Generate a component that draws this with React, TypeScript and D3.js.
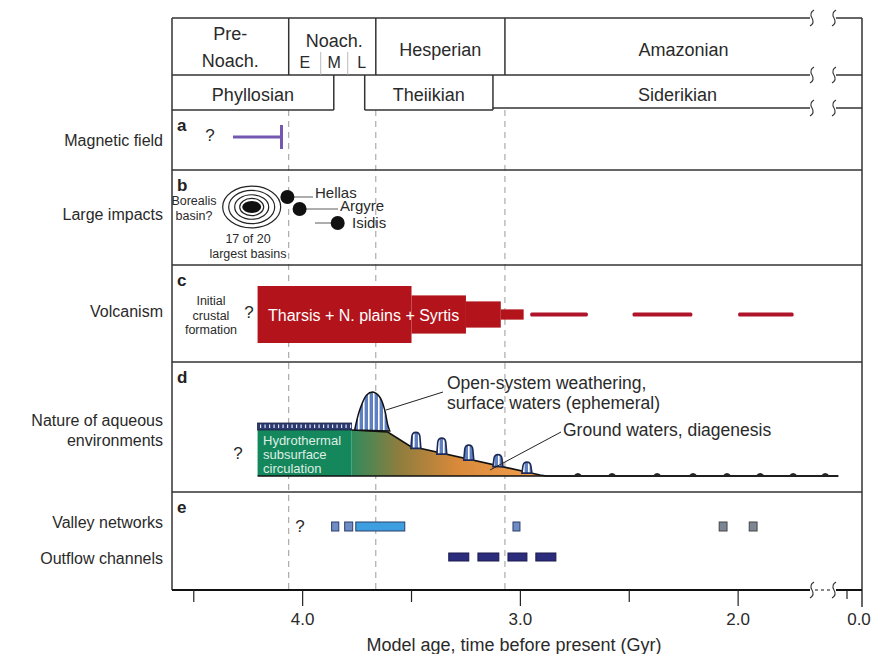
import React from 'react';
import * as d3 from 'd3';

// ---------- DATA ----------
const axisTicks = [4.5, 4.0, 3.5, 3.0, 2.5, 2.0, 1.5, 0.0];
const axisTickLabels = ['', '4.0', '', '3.0', '', '2.0', '', '0.0'];

const eras = [
  { name: ['Pre-', 'Noach.'], start: 4.6, end: 4.064 },
  { name: ['Noach.'], start: 4.064, end: 3.664 },
  { name: ['Hesperian'], start: 3.664, end: 3.071 },
  { name: ['Amazonian'], start: 3.071, end: 0.0 },
];
const noachianEpochs = [
  { name: 'E', start: 4.064, end: 3.917 },
  { name: 'M', start: 3.917, end: 3.793 },
  { name: 'L', start: 3.793, end: 3.664 },
];
const mineralEras = [
  { name: 'Phyllosian', start: 4.6, end: 3.857 },
  { name: 'Theiikian', start: 3.715, end: 3.126 },
  { name: 'Siderikian', start: 3.126, end: 0.0 },
];
const boundaries = [4.064, 3.664, 3.071];

const rowLabels = [
  ['Magnetic field'],
  ['Large impacts'],
  ['Volcanism'],
  ['Nature of aqueous', 'environments'],
  ['Valley networks', 'Outflow channels'],
];
const panelLetters = ['a', 'b', 'c', 'd', 'e'];

const magneticField = { start: 4.32, end: 4.097 };

const borealisAge = 4.234;
const impacts = [
  { name: 'Hellas', age: 4.07 },
  { name: 'Argyre', age: 4.014 },
  { name: 'Isidis', age: 3.839 },
];

const volcanismSteps = [
  { start: 4.207, end: 3.5, intensity: 1.0 },
  { start: 3.5, end: 3.25, intensity: 0.67 },
  { start: 3.25, end: 3.09, intensity: 0.46 },
  { start: 3.09, end: 2.985, intensity: 0.18 },
];
const volcanismPulses = [
  { start: 2.955, end: 2.69 },
  { start: 2.485, end: 2.21 },
  { start: 2.0, end: 1.745 },
];
const pulseIntensity = 0.07;

const hydrothermal = { start: 4.207, end: 3.775, level: 46 };
const groundProfile: [number, number][] = [
  [3.775, 46], [3.609, 44], [3.508, 30], [2.91, 1], [2.88, 0], [1.54, 0],
];
const surfaceHump: [number, number][] = [
  [3.761, 46], [3.738, 66], [3.706, 81], [3.678, 84], [3.646, 79], [3.623, 66], [3.609, 51], [3.6, 45],
];
const groundHumpAges = [3.48, 3.361, 3.237, 3.103, 2.97];
const groundHumpHeights = [15, 15, 14, 11, 10];
const lateBumpAges = [2.736, 2.579, 2.372, 2.207, 2.051, 1.899, 1.747, 1.6];

const valleyNetworks = [
  { start: 3.867, end: 3.834, kind: 'early' },
  { start: 3.807, end: 3.77, kind: 'early' },
  { start: 3.756, end: 3.531, kind: 'main' },
  { start: 3.034, end: 3.002, kind: 'early' },
  { start: 2.087, end: 2.051, kind: 'late' },
  { start: 1.949, end: 1.913, kind: 'late' },
];
const outflowChannels = [
  { start: 3.329, end: 3.237 },
  { start: 3.195, end: 3.099 },
  { start: 3.057, end: 2.97 },
  { start: 2.929, end: 2.837 },
];

// ---------- LAYOUT ----------
const W = 875, H = 654;
const FL = 172, FR = 862;
const x = d3.scaleLinear().domain([4.6, 1.5, 0.0]).range([FL, 847, FR]);
const yTop = 18, yRow1 = 75, yRow2 = 110;
const panelBounds = [110, 170, 265, 362, 492, 590];
const yAxis = 590;
const yD = d3.scaleLinear().domain([0, 100]).range([476, 376]);
const volcH = d3.scaleLinear().domain([0, 1]).range([0, 57]);
const volcCenter = 314.5;

const FONT = "'Liberation Sans', Arial, Helvetica, sans-serif";
const INK = '#2a2a2a';
const LINE = '#333';

function BreakMark({ cx, cy }: { cx: number; cy: number }) {
  const p = `M${cx + 2},${cy - 8} Q${cx - 3},${cy - 5} ${cx},${cy} Q${cx + 3},${cy + 5} ${cx - 2},${cy + 8}`;
  return <path d={p} fill="none" stroke={LINE} strokeWidth={1.1} />;
}

function HLineWithBreak({ y, x1, x2 }: { y: number; x1: number; x2: number }) {
  return (
    <g>
      <line x1={x1} x2={810} y1={y} y2={y} stroke={LINE} strokeWidth={1.5} />
      <line x1={836} x2={x2} y1={y} y2={y} stroke={LINE} strokeWidth={1.5} />
      <BreakMark cx={812} cy={y} />
      <BreakMark cx={834} cy={y} />
    </g>
  );
}

export default function App() {
  const dLine = d3.line<[number, number]>().x(d => x(d[0])).y(d => yD(d[1]));
  const humpPath = d3.line<[number, number]>().x(d => x(d[0])).y(d => yD(d[1])).curve(d3.curveCatmullRom)(surfaceHump) || '';
  const orangePoly = [...groundProfile, [groundProfile[groundProfile.length - 1][0], 0] as [number, number], [groundProfile[0][0], 0] as [number, number]];

  const slopeLevel = (t: number) => {
    for (let i = 0; i < groundProfile.length - 1; i++) {
      const [t0, l0] = groundProfile[i];
      const [t1, l1] = groundProfile[i + 1];
      if (t <= t0 && t >= t1) return l0 + ((t0 - t) / (t0 - t1)) * (l1 - l0);
    }
    return 0;
  };

  const smallHump = (t: number, h: number) => {
    const cx = x(t);
    const w = 10;
    const yb = yD(slopeLevel(t)) + 1;
    const yt = yD(slopeLevel(t) + h);
    return `M${cx - w / 2},${yb} L${cx - w / 2 + 1},${yt + 4} Q${cx - w / 2 + 1.5},${yt} ${cx},${yt} Q${cx + w / 2 - 1.5},${yt} ${cx + w / 2 - 1},${yt + 4} L${cx + w / 2},${yb} Z`;
  };

  const impactY = [197, 209, 223];
  const impactLabelX = [315, 340, 352];
  const impactLabelY = [198, 211, 228];

  return (
    <div style={{ position: 'absolute', left: 0, top: 0 }}>
      <svg width={W} height={H} style={{ display: 'block', background: '#fff' }} fontFamily={FONT}>
        <defs>
          <pattern id="stripes" patternUnits="userSpaceOnUse" width={5} height={10}>
            <rect width={5} height={10} fill="#5e7fc0" />
            <rect x={3} width={1.6} height={10} fill="#ffffff" />
          </pattern>
          <linearGradient id="orangeGrad" gradientUnits="userSpaceOnUse" x1={x(3.775)} x2={x(2.9)} y1={0} y2={0}>
            <stop offset="0" stopColor="#2f8a5c" />
            <stop offset="0.25" stopColor="#8f7d3e" />
            <stop offset="0.55" stopColor="#d8893a" />
            <stop offset="1" stopColor="#f4a04e" />
          </linearGradient>
        </defs>

        {/* dashed era boundaries */}
        {boundaries.map((b, i) => (
          <line key={i} x1={x(b)} x2={x(b)} y1={yRow2} y2={yAxis} stroke="#9a9a9a" strokeWidth={1} strokeDasharray="6,5" />
        ))}

        {/* ---------- HEADER ---------- */}
        <HLineWithBreak y={yTop} x1={FL} x2={FR} />
        <HLineWithBreak y={yRow1} x1={FL} x2={FR} />
        <line x1={FL} x2={FL} y1={yTop} y2={yAxis} stroke={LINE} strokeWidth={1.5} />
        <line x1={FR} x2={FR} y1={yTop} y2={607} stroke={LINE} strokeWidth={1.5} />
        {eras.slice(1).map((e, i) => (
          <line key={i} x1={x(e.start)} x2={x(e.start)} y1={yTop} y2={yRow1} stroke={LINE} strokeWidth={1.5} />
        ))}
        {noachianEpochs.slice(1).map((e, i) => (
          <line key={i} x1={x(e.start)} x2={x(e.start)} y1={52} y2={yRow1} stroke="#aaa" strokeWidth={0.8} />
        ))}
        {eras.map((e, i) => {
          const cx = (x(e.start) + x(e.end)) / 2;
          if (e.name.length === 2)
            return (
              <g key={i}>
                <text x={cx} y={40} textAnchor="middle" fontSize={18} fill={INK}>{e.name[0]}</text>
                <text x={cx} y={67} textAnchor="middle" fontSize={18} fill={INK}>{e.name[1]}</text>
              </g>
            );
          if (e.name[0] === 'Noach.')
            return <text key={i} x={cx + 2} y={47} textAnchor="middle" fontSize={18} fill={INK}>{e.name[0]}</text>;
          return <text key={i} x={cx} y={56} textAnchor="middle" fontSize={18} fill={INK}>{e.name[0]}</text>;
        })}
        {noachianEpochs.map((e, i) => (
          <text key={i} x={(x(e.start) + x(e.end)) / 2} y={68} textAnchor="middle" fontSize={16} fill={INK}>{e.name}</text>
        ))}
        {/* row 2 mineral eras */}
        {mineralEras.map((m, i) => {
          const x1 = x(m.start), x2 = x(m.end);
          return (
            <g key={i}>
              {i === 2 ? (
                <HLineWithBreak y={yRow2 - 2} x1={x1} x2={x2} />
              ) : (
                <line x1={x1} x2={x2} y1={yRow2} y2={yRow2} stroke={LINE} strokeWidth={1.5} />
              )}
              {i < 2 && <line x1={x2} x2={x2} y1={yRow1} y2={yRow2} stroke={LINE} strokeWidth={1.5} />}
              {i === 1 && <line x1={x1} x2={x1} y1={yRow1} y2={yRow2} stroke={LINE} strokeWidth={1.5} />}
              <text x={(x1 + x2) / 2} y={101} textAnchor="middle" fontSize={18} fill={INK}>{m.name}</text>
            </g>
          );
        })}

        {/* ---------- PANEL FRAMES ---------- */}
        {panelBounds.slice(1, 5).map((y, i) => (
          <line key={i} x1={FL} x2={FR} y1={y} y2={y} stroke={LINE} strokeWidth={1.3} />
        ))}
        {panelLetters.map((l, i) => (
          <text key={l} x={177} y={panelBounds[i] + 21} fontSize={17} fontWeight="bold" fill="#222">{l}</text>
        ))}
        {/* row labels */}
        <text x={163} y={146} textAnchor="end" fontSize={16} fill={INK}>{rowLabels[0][0]}</text>
        <text x={163} y={220} textAnchor="end" fontSize={16} fill={INK}>{rowLabels[1][0]}</text>
        <text x={163} y={317} textAnchor="end" fontSize={16} fill={INK}>{rowLabels[2][0]}</text>
        <text x={163} y={426} textAnchor="end" fontSize={16} fill={INK}>{rowLabels[3][0]}</text>
        <text x={163} y={446} textAnchor="end" fontSize={16} fill={INK}>{rowLabels[3][1]}</text>
        <text x={163} y={528} textAnchor="end" fontSize={16} fill={INK}>{rowLabels[4][0]}</text>
        <text x={163} y={564} textAnchor="end" fontSize={16} fill={INK}>{rowLabels[4][1]}</text>

        {/* ---------- a: magnetic field ---------- */}
        <text x={210} y={141} textAnchor="middle" fontSize={17} fill={INK}>?</text>
        <line x1={x(magneticField.start)} x2={x(magneticField.end)} y1={137} y2={137} stroke="#7458b0" strokeWidth={3} />
        <line x1={x(magneticField.end)} x2={x(magneticField.end)} y1={125} y2={149} stroke="#7458b0" strokeWidth={3} />

        {/* ---------- b: impacts ---------- */}
        {[29, 23, 17, 12].map((rx, i) => (
          <ellipse key={i} cx={x(borealisAge)} cy={207} rx={rx} ry={rx * 0.72} fill="none" stroke="#222" strokeWidth={1.2} />
        ))}
        <ellipse cx={x(borealisAge)} cy={207} rx={9.5} ry={6} fill="#111" />
        <text x={194} y={204.5} textAnchor="middle" fontSize={12.5} fill={INK}>Borealis</text>
        <text x={194} y={219.5} textAnchor="middle" fontSize={12.5} fill={INK}>basin?</text>
        <text x={248} y={242.5} textAnchor="middle" fontSize={12.5} fill={INK}>17 of 20</text>
        <text x={248} y={257.5} textAnchor="middle" fontSize={12.5} fill={INK}>largest basins</text>
        {impacts.map((imp, i) => {
          const cx = x(imp.age), cy = impactY[i];
          return (
            <g key={imp.name}>
              {i === 0 && <line x1={cx} x2={313} y1={cy} y2={cy} stroke="#333" strokeWidth={0.8} />}
              {i === 1 && <line x1={cx} x2={338} y1={cy} y2={cy} stroke="#333" strokeWidth={0.8} />}
              {i === 2 && <line x1={315} x2={cx} y1={cy} y2={cy} stroke="#333" strokeWidth={0.8} />}
              <circle cx={cx} cy={cy} r={7} fill="#111" />
              <text x={impactLabelX[i]} y={impactLabelY[i]} fontSize={15} fill={INK}>{imp.name}</text>
            </g>
          );
        })}

        {/* ---------- c: volcanism ---------- */}
        <text x={211} y={304.5} textAnchor="middle" fontSize={12.5} fill={INK}>Initial</text>
        <text x={211} y={319.5} textAnchor="middle" fontSize={12.5} fill={INK}>crustal</text>
        <text x={211} y={333.5} textAnchor="middle" fontSize={12.5} fill={INK}>formation</text>
        <text x={249} y={318} textAnchor="middle" fontSize={17} fill={INK}>?</text>
        {volcanismSteps.map((s, i) => (
          <rect key={i} x={x(s.start)} width={x(s.end) - x(s.start)} y={volcCenter - volcH(s.intensity) / 2} height={volcH(s.intensity)} fill="#b3141c" />
        ))}
        {volcanismPulses.map((p, i) => (
          <rect key={i} x={x(p.start)} width={x(p.end) - x(p.start)} y={volcCenter - volcH(pulseIntensity) / 2} height={volcH(pulseIntensity)} rx={1.5} fill="#b0142a" />
        ))}
        <text x={268} y={321} fontSize={16} fill="#fff">Tharsis + N. plains + Syrtis</text>

        {/* ---------- d: aqueous environments ---------- */}
        <path d={(dLine(orangePoly as [number, number][]) || '') + 'Z'} fill="url(#orangeGrad)" />
        <rect x={x(hydrothermal.start)} y={yD(hydrothermal.level)} width={x(hydrothermal.end) - x(hydrothermal.start)} height={yD(0) - yD(hydrothermal.level)} fill="#15875c" />
        <rect x={x(hydrothermal.start)} y={yD(hydrothermal.level + 7)} width={x(hydrothermal.end) - x(hydrothermal.start)} height={yD(hydrothermal.level) - yD(hydrothermal.level + 7)} fill="#2c3a6e" stroke="#1c2240" strokeWidth={0.8} />
        {d3.range(x(hydrothermal.start) + 3, x(hydrothermal.end) - 1, 4.5).map((xx, i) => (
          <line key={i} x1={xx} x2={xx} y1={yD(hydrothermal.level + 5.5)} y2={yD(hydrothermal.level + 2)} stroke="#dfe6ff" strokeWidth={1.2} />
        ))}
        <path d={dLine(groundProfile) || ''} fill="none" stroke="#111" strokeWidth={1.6} />
        <line x1={x(hydrothermal.start)} x2={x(groundProfile[groundProfile.length - 1][0])} y1={yD(0)} y2={yD(0)} stroke="#111" strokeWidth={1.6} />
        <path d={humpPath + 'Z'} fill="url(#stripes)" stroke="#111" strokeWidth={1.5} />
        {groundHumpAges.map((t, i) => (
          <path key={i} d={smallHump(t, groundHumpHeights[i])} fill="url(#stripes)" stroke="#1e2a55" strokeWidth={1.6} />
        ))}
        {lateBumpAges.map((t, i) => {
          const cx = x(t), yb = yD(0);
          return <path key={i} d={`M${cx - 4.5},${yb} Q${cx},${yb - 6} ${cx + 4.5},${yb} Z`} fill="#222" />;
        })}
        <text x={263} y={444.5} fontSize={13} fill="#dfeee4">Hydrothermal</text>
        <text x={263} y={459} fontSize={13} fill="#dfeee4">subsurface</text>
        <text x={263} y={473} fontSize={13} fill="#dfeee4">circulation</text>
        <text x={238} y={459} textAnchor="middle" fontSize={17} fill={INK}>?</text>
        <line x1={386} y1={410} x2={443} y2={392} stroke="#222" strokeWidth={1} />
        <text x={447} y={389} fontSize={17.5} fill={INK}>Open-system weathering,</text>
        <text x={447} y={409} fontSize={17.5} fill={INK}>surface waters (ephemeral)</text>
        <line x1={490} y1={470} x2={561} y2={432} stroke="#222" strokeWidth={1} />
        <text x={563} y={436} fontSize={17.5} fill={INK}>Ground waters, diagenesis</text>

        {/* ---------- e: channels ---------- */}
        <text x={300} y={532} textAnchor="middle" fontSize={17} fill={INK}>?</text>
        {valleyNetworks.map((v, i) => (
          <rect key={i} x={x(v.start)} y={522} width={x(v.end) - x(v.start)} height={9}
            fill={v.kind === 'main' ? '#3d9ee0' : v.kind === 'early' ? '#6f8cc4' : '#7d8794'}
            stroke={v.kind === 'late' ? '#444' : '#2a3f6a'} strokeWidth={1} />
        ))}
        {outflowChannels.map((o, i) => (
          <rect key={i} x={x(o.start)} y={553} width={x(o.end) - x(o.start)} height={8} fill="#2c2c7c" stroke="#1a1a50" strokeWidth={1} />
        ))}

        {/* ---------- axis ---------- */}
        <line x1={FL} x2={810} y1={yAxis} y2={yAxis} stroke="#111" strokeWidth={2} />
        <line x1={815} x2={831} y1={yAxis} y2={yAxis} stroke="#111" strokeWidth={1} strokeDasharray="3,3" />
        <line x1={836} x2={FR} y1={yAxis} y2={yAxis} stroke="#111" strokeWidth={2} />
        <BreakMark cx={812} cy={yAxis} />
        <BreakMark cx={834} cy={yAxis} />
        {axisTicks.map((t, i) => (
          <g key={i}>
            {t !== 0 && (
              <line x1={x(t)} x2={x(t)} y1={yAxis} y2={axisTickLabels[i] ? 606 : t === 1.5 ? 599 : 602} stroke="#222" strokeWidth={1.2} />
            )}
            {axisTickLabels[i] && (
              <text x={t === 0 ? x(t) - 3 : x(t)} y={625} textAnchor="middle" fontSize={17} fill={INK}>{axisTickLabels[i]}</text>
            )}
          </g>
        ))}
        <text x={514} y={651} textAnchor="middle" fontSize={18} fill={INK}>Model age, time before present (Gyr)</text>
      </svg>
    </div>
  );
}
